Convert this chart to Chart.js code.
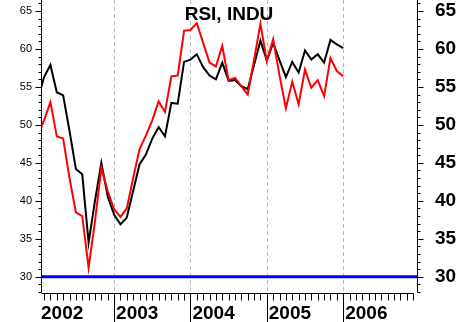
<!DOCTYPE html>
<html>
<head>
<meta charset="utf-8">
<script src="https://cdn.jsdelivr.net/npm/chart.js@4.4.0/dist/chart.umd.min.js"></script>
<style>
  body { margin: 0; background: #fff; }
  canvas { display: block; }
</style>
</head>
<body>
<canvas id="grafico" width="458" height="322"></canvas>
<script>
// meses contados desde enero 2002 (0 = 1 ene 2002)
const meses = [0.5, 1, 2, 3, 4, 5, 6, 7, 8, 9, 10, 11, 12, 13, 14, 15, 16, 17, 18, 19, 20,
  21, 22, 23, 24, 25, 26, 27, 28, 29, 30, 31, 32, 33, 34, 35, 36, 37, 38, 39, 40,
  41, 42, 43, 44, 45, 46, 47, 48];

// RSI linea negra
const rsiNegro = [54.8, 56.3, 57.9, 54.3, 53.9, 49.2, 44.2, 43.5, 34.5, 40.0, 45.0,
  40.6, 38.2, 36.9, 37.8, 41.3, 44.8, 46.1, 48.2, 49.7, 48.5,
  52.9, 52.8, 58.3, 58.6, 59.3, 57.6, 56.5, 56.0, 58.2, 55.8,
  55.9, 55.1, 54.7, 57.9, 61.1, 58.5, 60.8, 58.5, 56.3, 58.3,
  56.9, 59.8, 58.6, 59.3, 58.2, 61.2, 60.6, 60.1];

// RSI linea roja
const rsiRojo = [49.6, 50.6, 53.0, 48.5, 48.2, 43.0, 38.5, 38.0, 31.2, 37.3, 44.3,
  41.3, 38.9, 37.9, 39.0, 43.0, 46.8, 48.6, 50.6, 53.1, 51.7,
  56.4, 56.5, 62.4, 62.5, 63.4, 60.8, 58.2, 57.7, 60.4, 55.9,
  56.2, 55.1, 54.0, 58.6, 63.3, 58.4, 61.3, 56.5, 52.2, 55.7,
  52.7, 57.3, 54.9, 55.9, 53.8, 58.8, 57.1, 56.4];

const anios = ["2002", "2003", "2004", "2005", "2006"];
const nivel = 30;

const xMin = 0.52;
const xMax = 59.6;
const yMin = 28.0;
const yMax = 66.45;

Chart.defaults.font.family = "'Liberation Sans', Arial, sans-serif";
Chart.defaults.color = "#000";

function puntos(valores) {
  return meses.map(function (m, i) {
    return { x: m, y: valores[i] };
  });
}

const ejes = {
  id: "ejes",
  beforeDatasetsDraw(chart) {
    const ctx = chart.ctx;
    const a = chart.chartArea;
    const x = chart.scales.x;
    ctx.save();
    // lineas punteadas de cada año
    ctx.strokeStyle = "#b8b8b8";
    ctx.lineWidth = 1;
    ctx.setLineDash([4, 3]);
    for (let i = 1; i < anios.length; i++) {
      const px = Math.round(x.getPixelForValue(i * 12)) + 0.5;
      ctx.beginPath();
      ctx.moveTo(px, a.top);
      ctx.lineTo(px, a.bottom);
      ctx.stroke();
    }
    ctx.restore();
  },
  afterDraw(chart) {
    const ctx = chart.ctx;
    const a = chart.chartArea;
    const x = chart.scales.x;
    const y = chart.scales.y;
    const izq = Math.round(a.left) + 0.5;
    const der = Math.round(a.right) + 0.5;
    const abajo = Math.round(a.bottom) + 0.5;
    ctx.save();
    ctx.strokeStyle = "#000";
    ctx.lineWidth = 1;

    // ejes verticales
    ctx.beginPath();
    ctx.moveTo(izq, a.top);
    ctx.lineTo(izq, abajo);
    ctx.moveTo(der, a.top);
    ctx.lineTo(der, abajo);
    ctx.stroke();

    // marcas del eje y (cada unidad, mas largas cada 5)
    ctx.beginPath();
    for (let v = Math.ceil(yMin); v <= yMax; v++) {
      const py = Math.round(y.getPixelForValue(v)) + 0.5;
      const largo = v % 5 === 0 ? 6 : 3;
      ctx.moveTo(izq - largo, py);
      ctx.lineTo(izq, py);
      ctx.moveTo(der, py);
      ctx.lineTo(der + largo, py);
    }
    ctx.stroke();

    // eje x tipo peine: linea, marcas mensuales y de año
    const fin = Math.round(x.getPixelForValue(59)) + 0.5;
    ctx.beginPath();
    ctx.moveTo(izq, abajo + 1);
    ctx.lineTo(fin, abajo + 1);
    for (let m = 1; m <= 59; m++) {
      const px = Math.round(x.getPixelForValue(m)) + 0.5;
      ctx.moveTo(px, abajo + 1);
      ctx.lineTo(px, m % 12 === 0 ? chart.height : abajo + 8);
    }
    ctx.stroke();

    // etiquetas de año
    ctx.font = "bold 19px 'Liberation Sans', Arial, sans-serif";
    ctx.fillStyle = "#000";
    ctx.textAlign = "left";
    ctx.textBaseline = "alphabetic";
    anios.forEach(function (anio, i) {
      const px = Math.max(x.getPixelForValue(i * 12) + 2, a.left);
      ctx.fillText(anio, px, 319);
    });

    // titulo dentro del area
    ctx.textAlign = "center";
    ctx.fillText("RSI, INDU", (a.left + a.right) / 2, 20);
    ctx.restore();
  },
};

function ajustar(s) {
  s.width = 41;
  s.paddingTop = 0;
  s.paddingBottom = 0;
}

new Chart(document.getElementById("grafico"), {
  type: "line",
  data: {
    datasets: [
      {
        label: "rojo",
        data: puntos(rsiRojo),
        borderColor: "#ff0000",
        borderWidth: 2,
        pointRadius: 0,
        tension: 0,
        fill: false,
      },
      {
        label: "negro",
        data: puntos(rsiNegro),
        borderColor: "#000000",
        borderWidth: 2,
        pointRadius: 0,
        tension: 0,
        fill: false,
      },
      {
        label: "30",
        data: [
          { x: xMin, y: nivel },
          { x: xMax, y: nivel },
        ],
        borderColor: "#0000ff",
        borderWidth: 3,
        pointRadius: 0,
        fill: false,
      },
    ],
  },
  options: {
    responsive: false,
    devicePixelRatio: 1,
    animation: false,
    layout: { padding: { top: 0, bottom: 30, left: 0, right: 0 } },
    plugins: {
      legend: { display: false },
      tooltip: { enabled: false },
      title: { display: false },
    },
    scales: {
      x: {
        type: "linear",
        min: xMin,
        max: xMax,
        display: false,
      },
      y: {
        position: "left",
        min: yMin,
        max: yMax,
        afterFit: ajustar,
        grid: { display: false, drawTicks: false },
        border: { display: false },
        ticks: {
          stepSize: 5,
          includeBounds: false,
          autoSkip: false,
          padding: 9,
          font: { size: 11 },
          callback: function (v) {
            return v % 5 === 0 ? v : "";
          },
        },
      },
      y2: {
        position: "right",
        min: yMin,
        max: yMax,
        afterFit: ajustar,
        grid: { display: false, drawTicks: false },
        border: { display: false },
        ticks: {
          stepSize: 5,
          includeBounds: false,
          autoSkip: false,
          padding: 18,
          font: { size: 19, weight: "bold" },
          callback: function (v) {
            return v % 5 === 0 ? v : "";
          },
        },
      },
    },
  },
  plugins: [ejes],
});
</script>
</body>
</html>
